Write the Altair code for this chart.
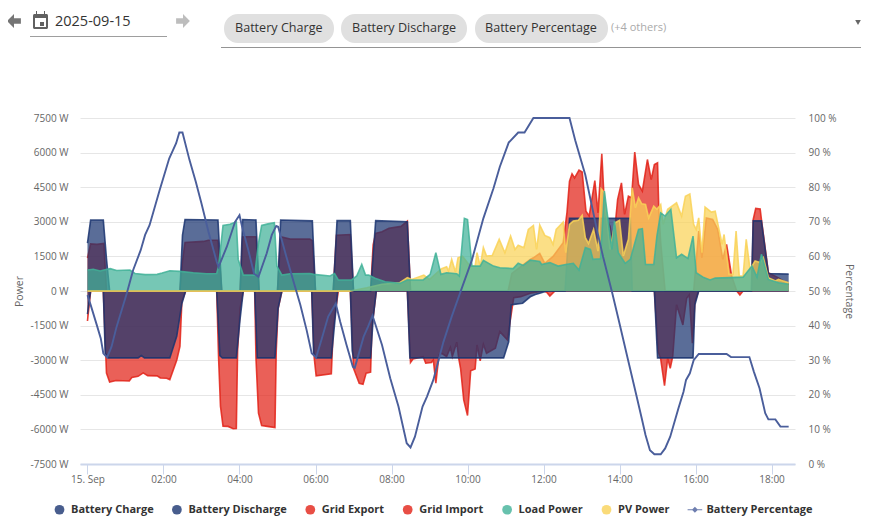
import altair as alt
import pandas as pd

NAMES = ["Battery Charge", "Battery Discharge", "Grid Export", "Grid Import", "Load Power", "PV Power", "Battery Percentage"]
COLORS = ["#1a3470", "#1a3470", "#e22217", "#e22217", "#41b198", "#f9d257", "#4a5e9b"]

charge_min = [0, 5, 25, 30, 35, 146, 150, 154, 206, 212, 241, 245, 266, 271, 300, 305, 355, 360, 388, 394, 415, 420, 447, 455, 505, 510, 754, 761, 857, 860, 1048, 1051, 1064, 1075, 1107]
charge_w = [2080, 3080, 3080, 1400, 0, 0, 2420, 3100, 3080, 0, 0, 3100, 3080, 0, 0, 3080, 3040, 0, 0, 3050, 3050, 0, 0, 3050, 3000, 0, 0, 3150, 3150, 0, 0, 3040, 3040, 760, 730]

discharge_min = [0, 5, 25, 28, 33, 80, 85, 90, 130, 141, 149, 155, 204, 209, 213, 235, 241, 246, 264, 268, 296, 301, 307, 354, 357, 361, 385, 391, 395, 415, 418, 420, 447, 451, 456, 505, 509, 657, 665, 669, 673, 687, 699, 707, 714, 725, 895, 900, 956, 959, 965, 1107]
discharge_w = [-1000, 0, 0, -2700, -2900, -2900, -2800, -2900, -2900, -1950, -550, 0, 0, -2800, -2900, -2900, -1200, 0, 0, -2900, -2900, -750, 0, 0, -2700, -2900, -2900, -1180, 0, 0, -2600, -2900, -2900, -1180, 0, 0, -2900, -2900, -2200, -600, -580, -530, -250, -150, -100, 0, 0, -2900, -2900, -600, 0, 0]

export_min = [0, 5, 25, 30, 35, 45, 66, 70, 80, 88, 95, 110, 115, 125, 130, 141, 146, 149, 155, 204, 207, 210, 214, 222, 230, 235, 237, 241, 246, 264, 266, 270, 275, 284, 296, 298, 301, 307, 354, 358, 361, 385, 388, 396, 415, 420, 429, 435, 440, 447, 449, 456, 505, 510, 514, 530, 534, 543, 546, 550, 555, 559, 567, 573, 576, 583, 586, 589, 594, 600, 605, 612, 615, 620, 625, 630, 644, 651, 663, 668, 673, 684, 699, 720, 725, 730, 738, 895, 901, 905, 911, 916, 920, 924, 930, 940, 946, 950, 955, 959, 965, 1025, 1030, 1035, 1107]
export_w = [-1300, 0, 0, -3560, -3950, -3880, -3900, -3750, -3700, -3550, -3670, -3680, -3770, -3780, -3840, -2990, -2400, -460, 0, 0, -2900, -5000, -5860, -5870, -5970, -5960, -2600, -750, 0, 0, -2900, -5300, -5830, -5870, -5920, -2600, -750, 0, 0, -2900, -3680, -3590, -1600, 0, 0, -3350, -4000, -4040, -3560, -3520, -1600, 0, 0, -3100, -2950, -2850, -3130, -3100, -2990, -4000, -2770, -2700, -2840, -2450, -2840, -2220, -2900, -3350, -4720, -5400, -3460, -3380, -2340, -3030, -2310, -2700, -2480, -1760, -2120, -1180, -290, -245, -100, 0, -50, -220, 0, 0, -2630, -2950, -4100, -2920, -3350, -2840, -600, -1470, -320, -170, -2260, -460, 0, 0, -170, 0, 0]

import_min = [0, 5, 15, 26, 30, 146, 150, 154, 183, 191, 206, 212, 241, 245, 266, 271, 300, 305, 320, 351, 355, 360, 388, 393, 415, 420, 447, 451, 455, 465, 476, 495, 505, 510, 664, 670, 699, 704, 714, 722, 735, 751, 757, 761, 765, 769, 776, 781, 787, 792, 801, 806, 812, 817, 825, 830, 837, 843, 848, 854, 859, 864, 870, 876, 884, 890, 895, 900, 902, 905, 912, 957, 965, 970, 977, 987, 995, 1003, 1009, 1017, 1025, 1049, 1051, 1055, 1062, 1064, 1075, 1091, 1107]
import_w = [1430, 2040, 2020, 2060, 0, 0, 1300, 2100, 2150, 2200, 2200, 0, 0, 2350, 2350, 0, 0, 2350, 2250, 2250, 2180, 0, 0, 2420, 2450, 0, 0, 2000, 2500, 2570, 2720, 2800, 3030, 0, 0, 760, 1370, 1440, 1630, 1200, 1500, 2090, 3400, 4760, 5080, 4900, 5240, 5160, 3460, 3250, 4790, 3390, 5950, 3250, 2810, 1950, 3970, 4690, 3320, 4110, 4040, 6020, 4620, 4330, 5700, 4830, 5480, 5560, 3500, 2100, 0, 0, 2600, 1440, 3170, 3100, 2670, 1370, 2020, 650, 0, 0, 3100, 3580, 3560, 3100, 790, 570, 290]

load_min = [0, 9, 20, 26, 36, 46, 67, 75, 91, 110, 118, 130, 146, 167, 188, 204, 207, 214, 225, 235, 238, 246, 264, 270, 275, 285, 295, 299, 307, 320, 351, 357, 383, 390, 396, 417, 425, 433, 439, 444, 454, 470, 493, 505, 530, 541, 550, 558, 567, 583, 587, 595, 600, 607, 620, 625, 641, 651, 672, 680, 688, 699, 714, 717, 730, 743, 755, 767, 776, 786, 794, 798, 810, 816, 828, 832, 838, 849, 857, 870, 876, 881, 894, 899, 905, 912, 921, 930, 938, 948, 956, 961, 973, 983, 991, 1014, 1035, 1049, 1057, 1064, 1075, 1091, 1107]
load_w = [910, 940, 870, 910, 970, 890, 910, 760, 710, 720, 780, 880, 850, 790, 750, 760, 1080, 2840, 2890, 3000, 1370, 690, 690, 2090, 2840, 2910, 2960, 1080, 690, 750, 760, 720, 650, 760, 480, 480, 650, 1150, 690, 690, 550, 400, 330, 480, 480, 720, 1660, 720, 790, 750, 650, 3150, 3100, 1080, 1080, 1330, 1080, 1010, 970, 1200, 1110, 1340, 1280, 1150, 1230, 1080, 1150, 1200, 910, 1880, 1800, 1370, 1400, 4330, 1800, 3030, 1660, 1200, 1370, 2670, 2700, 1150, 1150, 2380, 3390, 3250, 3540, 1440, 1590, 1410, 2380, 790, 580, 480, 560, 580, 600, 1080, 600, 1590, 500, 360, 290]

pv_min = [0, 415, 441, 465, 493, 505, 512, 531, 540, 559, 567, 570, 575, 581, 585, 592, 604, 612, 615, 620, 625, 630, 639, 650, 659, 668, 675, 680, 689, 696, 704, 709, 714, 722, 730, 735, 740, 751, 755, 761, 767, 775, 781, 786, 791, 799, 806, 811, 816, 825, 833, 840, 846, 854, 860, 865, 870, 875, 881, 886, 894, 899, 905, 909, 916, 930, 938, 944, 951, 957, 961, 965, 970, 975, 985, 991, 1002, 1005, 1013, 1019, 1024, 1029, 1035, 1040, 1046, 1054, 1062, 1067, 1075, 1086, 1091, 1107]
pv_w = [0, 0, 140, 290, 360, 580, 500, 690, 500, 970, 1050, 860, 1370, 820, 1440, 1510, 1080, 1080, 1660, 1080, 1880, 1520, 1540, 2240, 1660, 2380, 1800, 1980, 1880, 2670, 2840, 1800, 2860, 2410, 2310, 2020, 2670, 2990, 1660, 2890, 3030, 3070, 3280, 2310, 2060, 2670, 1730, 4430, 4260, 1800, 2960, 3070, 1520, 2240, 4470, 3610, 4040, 3780, 3750, 3170, 3680, 3540, 3750, 2890, 3540, 3820, 3250, 4110, 4210, 2890, 2670, 3170, 1660, 3640, 3420, 3460, 2020, 2450, 720, 720, 2600, 650, 650, 2240, 940, 1300, 1230, 1440, 580, 430, 500, 360]
pv_night_min = [0, 415]
pv_night_w = [0, 0]

pct_min = [0, 5, 15, 21, 25, 31, 38, 46, 62, 72, 84, 91, 98, 114, 129, 140, 145, 150, 161, 171, 180, 191, 204, 207, 220, 233, 240, 244, 254, 263, 270, 283, 291, 298, 301, 314, 330, 336, 346, 354, 361, 370, 380, 392, 399, 409, 419, 422, 436, 443, 450, 465, 478, 491, 504, 510, 517, 529, 536, 546, 562, 575, 589, 607, 625, 641, 651, 665, 680, 690, 704, 761, 770, 786, 805, 814, 828, 838, 854, 867, 875, 881, 888, 895, 905, 912, 920, 933, 941, 945, 951, 957, 965, 1009, 1016, 1045, 1052, 1061, 1070, 1075, 1086, 1094, 1107]
pct_v = [48.8, 46, 40, 36.3, 32, 30.8, 33.9, 39.7, 49.3, 56, 61.8, 66.2, 69, 79.2, 88.3, 92.7, 95.8, 95.8, 87.9, 81.6, 75.3, 67.1, 58.5, 57, 62.8, 70, 71.9, 68.6, 61.8, 55, 54.1, 60.9, 66.2, 68.8, 68.6, 59.9, 49.8, 46, 38.7, 32, 30.8, 36.3, 42.6, 46.4, 41.1, 34.4, 28.1, 27.8, 36.8, 39.7, 42.9, 34.4, 24.8, 16.6, 6, 4.8, 7.9, 16.6, 19.5, 24.3, 35.3, 42.6, 49.8, 59, 71, 79.7, 85.9, 92.9, 95.8, 95.8, 100, 100, 93.6, 83.5, 67.1, 59.9, 49.8, 42.1, 29.6, 19.5, 13.2, 8.4, 4, 2.8, 2.8, 4.5, 7.9, 16.1, 20.9, 24.3, 26.2, 30, 31.8, 31.8, 30.9, 30.9, 26.7, 21.9, 14.7, 12.9, 12.9, 10.8, 10.8]

POWER_TICKS = [-7500, -6000, -4500, -3000, -1500, 0, 1500, 3000, 4500, 6000, 7500]
PCT_TICKS = [0, 10, 20, 30, 40, 50, 60, 70, 80, 90, 100]
HOUR_TICKS = [0, 2, 4, 6, 8, 10, 12, 14, 16, 18]
DATE_TEXT = "2025-09-15"
CHIPS = ["Battery Charge", "Battery Discharge", "Battery Percentage"]
OTHERS = "(+4 others)"

BASE = pd.Timestamp("2025-09-15T00:00:00")
def stamp(m):
    return (BASE + pd.Timedelta(minutes=m)).strftime("%Y-%m-%dT%H:%M:%S")

FONT = "Open Sans"
X_DOMAIN = [stamp(-11.8), stamp(1117)]
LINE_SYMBOL = "M-1.5,-0.09H1.5V0.09H-1.5Z M0,-0.62L0.62,0L0,0.62L-0.62,0Z"
color_scale = alt.Scale(domain=NAMES, range=COLORS)
shape_scale = alt.Scale(domain=NAMES, range=["circle"] * 6 + [LINE_SYMBOL])
x_scale = alt.Scale(domain=X_DOMAIN)
y_scale = alt.Scale(domain=[-7500, 7500], nice=False)

def frame(name, mins, vals):
    return pd.DataFrame({"t": [stamp(m) for m in mins], "v": vals, "series": name})

x_axis = alt.Axis(
    values=[stamp(h * 60) for h in HOUR_TICKS],
    labelExpr="hours(datum.value)==0 ? '15. Sep' : timeFormat(datum.value,'%H:%M')",
    title=None, grid=False, ticks=True, tickSize=10, tickColor="#ccd6eb", tickWidth=1,
    domainColor="#ccd6eb", domainWidth=2, labelColor="#666666", labelFont=FONT,
    labelFontSize=10, labelPadding=0, labelOverlap=False, labelFlush=False,
)
left_axis = alt.Axis(
    values=POWER_TICKS, labelExpr="datum.value + ' W'", title="Power", titleFont=FONT,
    titleFontSize=10.5, titleFontWeight="normal", titleColor="#666666", titlePadding=6,
    grid=True, gridColor="#e6e6e6", gridWidth=1, ticks=False, domain=False,
    labelColor="#666666", labelFont=FONT, labelFontSize=10, labelPadding=12,
)
right_axis = alt.Axis(
    values=PCT_TICKS, labelExpr="datum.value + ' %'", title="Percentage", titleFont=FONT,
    titleFontSize=10.5, titleFontWeight="normal", titleColor="#666666", titlePadding=7,
    grid=False, ticks=False, domain=False, orient="right",
    labelColor="#666666", labelFont=FONT, labelFontSize=10, labelPadding=13,
)
legend_def = alt.Legend(
    title=None, orient="none", legendX=-26, legendY=386, direction="horizontal", columns=7,
    labelFont=FONT, labelFontSize=11, labelFontWeight="bold", labelColor="#333333",
    symbolSize=95, symbolStrokeWidth=0, labelOffset=6, columnPadding=17.4, symbolOpacity=0.8,
)
X = alt.X("t:T", scale=x_scale, axis=x_axis)
Y_POWER = alt.Y("v:Q", stack=None, scale=y_scale, axis=left_axis)
COLOR = alt.Color("series:N", scale=color_scale, legend=legend_def)

def area(name, mins, vals):
    return alt.Chart(frame(name, mins, vals)).mark_area(
        fillOpacity=0.72, interpolate="linear", line={"strokeWidth": 1.6, "strokeOpacity": 0.85}
    ).encode(x=X, y=Y_POWER, color=COLOR)

areas = [
    area("Grid Export", export_min, export_w),
    area("Grid Import", import_min, import_w),
    area("Battery Charge", charge_min, charge_w),
    area("Battery Discharge", discharge_min, discharge_w),
    area("PV Power", pv_min, pv_w),
    area("Load Power", load_min, load_w),
    area("PV Power", pv_night_min, pv_night_w),
]

legend_rows = pd.DataFrame({"t": [stamp(-600)] * len(NAMES), "v": [0] * len(NAMES), "series": NAMES})
legend_layer = alt.Chart(legend_rows).mark_point(filled=True, opacity=1, clip=True).encode(
    x=X, y=Y_POWER, color=COLOR,
    shape=alt.Shape("series:N", scale=shape_scale, legend=legend_def),
)

power = alt.layer(*areas, legend_layer)

pct_line = alt.Chart(frame("Battery Percentage", pct_min, pct_v)).mark_line(
    strokeWidth=1.9, interpolate="linear"
).encode(
    x=X,
    y=alt.Y("v:Q", scale=alt.Scale(domain=[0, 100], nice=False), axis=right_axis),
    color=COLOR,
)

one = pd.DataFrame({"k": [0]})
def px(page_x):
    return alt.value(page_x - 80)
def py(page_y):
    return alt.value(page_y - 118)

def box(x0, x1, y0, y1, color, radius=0):
    return alt.Chart(one).mark_rect(color=color, cornerRadius=radius).encode(
        x=px(x0), x2=px(x1), y=py(y0), y2=py(y1))

def label(text, x, y, size=12.6, color="#333333"):
    return alt.Chart(pd.DataFrame({"s": [text]})).mark_text(
        align="left", baseline="middle", font=FONT, fontSize=size, color=color
    ).encode(text="s:N", x=px(x), y=py(y))

def glyph(shape, x, y, size, color):
    return alt.Chart(one).mark_point(shape=shape, filled=True, size=size, color=color, opacity=1).encode(
        x=px(x), y=py(y))

ARROW_L = "M-1,0L0,-1V-0.4H1V0.4H0V1Z"
ARROW_R = "M1,0L0,-1V-0.4H-1V0.4H0V1Z"

header = [
    glyph(ARROW_L, 14, 21, 190, "#757575"),
    glyph(ARROW_R, 183, 21, 190, "#bdbdbd"),
    box(33, 48, 14, 29, "#616161", 1.5),
    box(35, 46, 18, 27, "#ffffff"),
    box(36, 37, 11, 15, "#616161"),
    box(44, 45, 11, 15, "#616161"),
    box(40, 44, 22, 26, "#616161"),
    label(DATE_TEXT, 55, 21.5, 14.5),
    box(30, 167, 36, 37, "#9e9e9e"),
    box(224, 334, 14, 43, "#e0e0e0", 14),
    box(341, 467, 14, 43, "#e0e0e0", 14),
    box(475, 608, 14, 43, "#e0e0e0", 14),
    label(CHIPS[0], 235, 28),
    label(CHIPS[1], 352, 28),
    label(CHIPS[2], 485, 28),
    label(OTHERS, 611, 28, 11, "#aaaaaa"),
    box(221, 861, 47, 48, "#949494"),
    glyph("triangle-down", 858, 22.5, 32, "#666666"),
]

chart = alt.layer(power, pct_line, *header).resolve_scale(y="independent").properties(
    width=715, height=346,
    padding={"left": 72, "top": 110, "right": 66, "bottom": 52},
    autosize=alt.AutoSizeParams(type="none"),
    background="white",
).configure_view(stroke=None)

chart.save("out.html", embed_options={"renderer": "svg", "actions": False})
